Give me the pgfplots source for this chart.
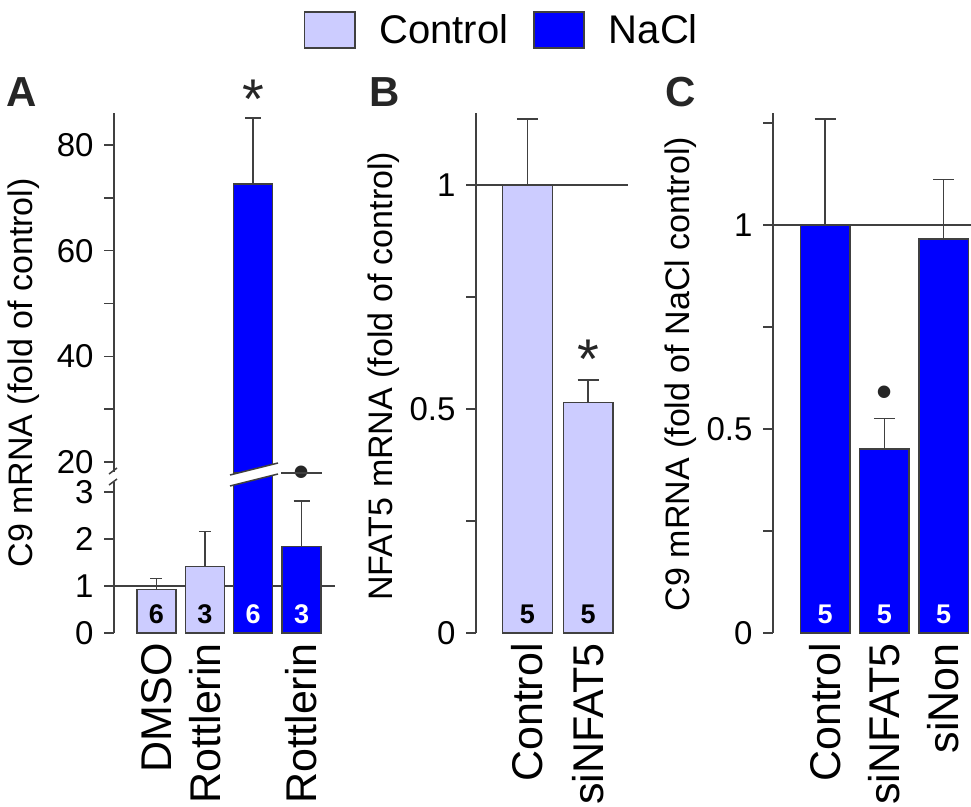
\documentclass[border=0pt]{standalone}
\usepackage{fontspec}
\setmainfont{Liberation Sans}
\usepackage{pgfplots}
\pgfplotsset{compat=1.18}
\definecolor{ctrl}{RGB}{204,204,255}
\definecolor{nacl}{RGB}{0,0,255}
\definecolor{edge}{RGB}{64,64,64}
\newcommand{\tickfont}{\fontsize{33}{40}\selectfont}
\newcommand{\xfont}{\fontsize{43}{50}\selectfont}
\newcommand{\labfont}{\fontsize{34}{40}\selectfont}
\newcommand{\legfont}{\fontsize{40}{48}\selectfont}
\newcommand{\numfont}{\fontsize{27}{32}\selectfont\bfseries}
\newcommand{\letfont}{\fontsize{42}{50}\selectfont\bfseries}
\newcommand{\starfont}{\fontsize{56}{60}\selectfont}
\newcommand{\dotfont}{\fontsize{46}{50}\selectfont}
\pgfplotsset{
  panel/.style={
    scale only axis,
    axis lines*=left,
    x axis line style={draw=none},
    y axis line style={edge, line width=1.5pt},
    xtick style={draw=none},
    ytick style={edge, line width=1.5pt},
    tick align=outside,
    major tick length=10pt,
    clip mode=individual,
    enlargelimits=false,
    /pgf/number format/assume math mode=true,
    yticklabel style={font=\tickfont, xshift=-7pt},
    xticklabel style={font=\xfont, rotate=90, anchor=east, inner sep=0pt},
    every axis y label/.style={rotate=90, anchor=center, font=\labfont},
  },
  bars/.style 2 args={ybar, bar width=#1, bar shift=0pt, draw=edge, line width=1.5pt,
    legend image code/.code={\draw[##1] (0pt,-18pt) rectangle (50pt,18pt);},
    error bars/y dir=plus, error bars/y explicit,
    error bars/error bar style={edge, line width=1.5pt},
    error bars/error mark options={rotate=90, edge, mark size=#2, line width=1.5pt}},
}
\pgfplotstableread{
x y e
0 0.93 0.235
1 1.42 0.736
}\Actrl
\pgfplotstableread{
x y e
2 72.6 12.5
3 1.837 0.972
}\Anacl
\pgfplotstableread{
x y e
0 1.0 0.147
1 0.514 0.051
}\Bctrl
\pgfplotstableread{
x y e
0 1.0 0.26
1 0.451 0.075
2 0.966 0.145
}\Cnacl
\begin{document}
\begin{tikzpicture}
\useasboundingbox (0pt,0pt) rectangle (971pt,-806pt);
% ---------- Panel A, lower part
\begin{axis}[panel, at={(114pt,-633pt)}, anchor=south west,
  width=221pt, height=160pt, xmin=-0.879, xmax=3.693, ymin=0, ymax=3.404,
  ytick={0,1,2,3}, xtick={0,1,2,3}, xticklabels={DMSO,Rottlerin,{},Rottlerin},
  legend style={at={(axis description cs:0.8597,3.8875)}, anchor=north west,
    draw=none, fill=none, inner sep=0pt, outer sep=0pt, font=\legfont,
    nodes={inner sep=0pt}, legend cell align=left},
  legend columns=2,
  legend style={/tikz/every odd column/.style={column sep=24pt},
    /tikz/every even column/.style={column sep=25pt}}]
\addplot[edge, line width=1.5pt, forget plot] coordinates {(-0.879,1) (3.693,1)};
\addplot[bars={39pt}{6pt}, fill=ctrl] table[x=x, y=y, y error=e] {\Actrl};
\addlegendentry{Control}
\addplot[bars={39pt}{8pt}, fill=nacl] table[x=x, y=y, y error=e] {\Anacl};
\addlegendentry{NaCl}
\node[font=\numfont, anchor=base, yshift=10pt, text=black] at (axis cs:0,0) {6};
\node[font=\numfont, anchor=base, yshift=10pt, text=black] at (axis cs:1,0) {3};
\node[font=\numfont, anchor=base, yshift=10pt, text=white] at (axis cs:2,0) {6};
\node[font=\numfont, anchor=base, yshift=10pt, text=white] at (axis cs:3,0) {3};
\node[font=\dotfont, anchor=north, inner sep=0pt, text=black!85] at (axis cs:3,3.553) {\textbullet};
\end{axis}
% ---------- Panel A, upper part
\begin{axis}[panel, at={(114pt,-473pt)}, anchor=south west,
  width=221pt, height=360pt, xmin=-0.879, xmax=3.693, ymin=17.92, ymax=86.06,
  ytick={20,30,40,50,60,70,80}, yticklabels={20,,40,,60,,80}, xtick=\empty,
  ylabel={C9 mRNA (fold of control)},
  every axis y label/.append style={at={(axis description cs:-0.407,0.278)}}]
\addplot[bars={39pt}{8pt}, fill=nacl] table[x=x, y=y, y error=e] {\Anacl};
\node[font=\starfont, anchor=north, inner sep=0pt, text=black!85] at (axis cs:2,92.3) {*};
\end{axis}
% axis break and bar break
\fill[white] (108pt,-471.5pt) rectangle (120pt,-482pt);
\draw[edge, line width=1.5pt] (109pt,-474pt) -- (117pt,-468pt);
\draw[edge, line width=1.5pt] (109pt,-485pt) -- (117pt,-479pt);
\fill[white] (230pt,-475pt) -- (278pt,-463pt) -- (278pt,-474pt) -- (230pt,-486pt) -- cycle;
\draw[edge, line width=1.5pt] (230pt,-475pt) -- (278pt,-463pt);
\draw[edge, line width=1.5pt] (230pt,-486pt) -- (278pt,-474pt);
% ---------- Panel B
\begin{axis}[panel, at={(476pt,-633pt)}, anchor=south west,
  width=152pt, height=520pt, xmin=-0.851, xmax=1.661, ymin=0, ymax=1.1607,
  ytick={0,0.25,0.5,0.75,1}, yticklabels={0,,0.5,,1},
  xtick={0,1}, xticklabels={Control,siNFAT5},
  ylabel={NFAT5 mRNA (fold of control)},
  every axis y label/.append style={at={(axis description cs:-0.605,0.494)}}]
\addplot[edge, line width=1.5pt, forget plot] coordinates {(-0.851,1) (1.661,1)};
\addplot[bars={49.5pt}{10.5pt}, fill=ctrl] table[x=x, y=y, y error=e] {\Bctrl};
\node[font=\numfont, anchor=base, yshift=10pt, text=black] at (axis cs:0,0) {5};
\node[font=\numfont, anchor=base, yshift=10pt, text=black] at (axis cs:1,0) {5};
\node[font=\starfont, anchor=north, inner sep=0pt, text=black!85] at (axis cs:1,0.654) {*};
\end{axis}
% ---------- Panel C
\begin{axis}[panel, at={(773pt,-633pt)}, anchor=south west,
  width=198pt, height=520pt, xmin=-0.878, xmax=2.464, ymin=0, ymax=1.2745,
  ytick={0,0.25,0.5,0.75,1,1.25}, yticklabels={0,,0.5,,1,},
  xtick={0,1,2}, xticklabels={Control,siNFAT5,siNon},
  ylabel={C9 mRNA (fold of NaCl control)},
  every axis y label/.append style={at={(axis description cs:-0.465,0.498)}}]
\addplot[edge, line width=1.5pt, forget plot] coordinates {(-0.878,1) (2.464,1)};
\addplot[bars={49.5pt}{10.5pt}, fill=nacl] table[x=x, y=y, y error=e] {\Cnacl};
\node[font=\numfont, anchor=base, yshift=10pt, text=white] at (axis cs:0,0) {5};
\node[font=\numfont, anchor=base, yshift=10pt, text=white] at (axis cs:1,0) {5};
\node[font=\numfont, anchor=base, yshift=10pt, text=white] at (axis cs:2,0) {5};
\node[font=\dotfont, anchor=north, inner sep=0pt, text=black!85] at (axis cs:1,0.605) {\textbullet};
\end{axis}
% panel letters
\node[font=\letfont, text=black!85] at (22pt,-92pt) {A};
\node[font=\letfont, text=black!85] at (385pt,-92pt) {B};
\node[font=\letfont, text=black!85] at (681pt,-92pt) {C};
\end{tikzpicture}
\end{document}
